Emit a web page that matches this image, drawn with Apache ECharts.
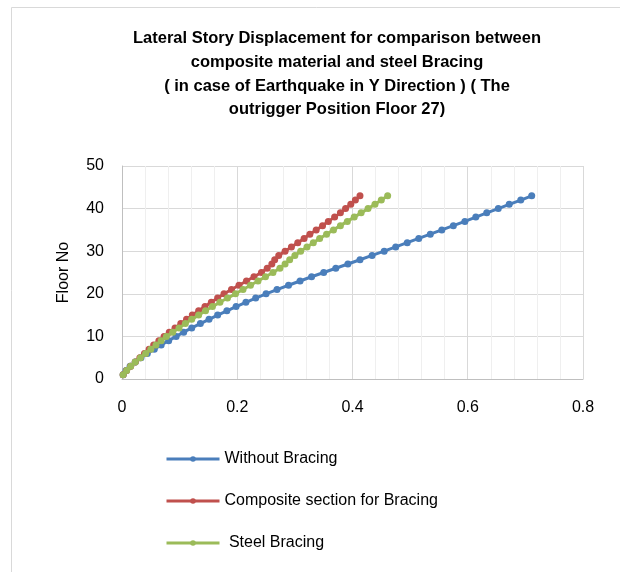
<!DOCTYPE html>
<html>
<head>
<meta charset="utf-8">
<script src="https://cdn.jsdelivr.net/npm/echarts@6/dist/echarts.min.js"></script>
<style>
  html, body { margin: 0; padding: 0; background: #fff; }
  #main { width: 620px; height: 572px; }
</style>
</head>
<body>
<div id="main"></div>
<script>
// floor numbers (y values)
var floors = [1, 2, 3, 4, 5, 6, 7, 8, 9, 10,
  11, 12, 13, 14, 15, 16, 17, 18, 19, 20,
  21, 22, 23, 24, 25, 26, 27, 28, 29, 30,
  31, 32, 33, 34, 35, 36, 37, 38, 39, 40,
  41, 42, 43];

// lateral displacement
var withoutBracing = [0.002, 0.007, 0.014, 0.023, 0.033, 0.044, 0.056, 0.068, 0.081, 0.094,
  0.107, 0.121, 0.136, 0.151, 0.166, 0.182, 0.198, 0.215, 0.232, 0.250,
  0.269, 0.289, 0.309, 0.329, 0.350, 0.371, 0.392, 0.413, 0.434, 0.455,
  0.475, 0.495, 0.515, 0.535, 0.555, 0.575, 0.595, 0.614, 0.633, 0.653,
  0.672, 0.692, 0.711];
var compositeBracing = [0.002, 0.008, 0.015, 0.023, 0.031, 0.039, 0.047, 0.055, 0.064, 0.073,
  0.082, 0.092, 0.102, 0.112, 0.122, 0.133, 0.144, 0.155, 0.166, 0.177,
  0.190, 0.203, 0.216, 0.229, 0.242, 0.252, 0.260, 0.265, 0.272, 0.283,
  0.294, 0.305, 0.316, 0.326, 0.337, 0.348, 0.358, 0.369, 0.379, 0.388,
  0.397, 0.405, 0.413];
var steelBracing = [0.002, 0.008, 0.015, 0.023, 0.032, 0.041, 0.050, 0.059, 0.068, 0.077,
  0.088, 0.099, 0.110, 0.121, 0.133, 0.145, 0.157, 0.170, 0.183, 0.197,
  0.210, 0.223, 0.236, 0.249, 0.262, 0.274, 0.283, 0.291, 0.300, 0.310,
  0.321, 0.332, 0.343, 0.355, 0.367, 0.379, 0.391, 0.403, 0.415, 0.427,
  0.439, 0.450, 0.461];

var seriesNames = ["Without Bracing", "Composite section for Bracing", " Steel Bracing"];
var seriesColors = ["#4a7ebb", "#c0504d", "#9bbb59"];

// 把x值和楼层拼成点
function pairUp(xs) {
  return xs.map(function (v, i) {
    return [v, floors[i]];
  });
}

var font = "Liberation Sans";
var myChart = echarts.init(document.getElementById("main"));

var option = {
  animation: false,
  backgroundColor: "#fff",
  title: {
    text: "Lateral Story Displacement for comparison between\ncomposite material and steel Bracing\n( in case of Earthquake in Y Direction ) ( The\noutrigger Position Floor 27)",
    left: 332,
    top: 22,
    textAlign: "center",
    textStyle: {
      fontFamily: font,
      fontSize: 16.5,
      fontWeight: "bold",
      color: "#000",
      lineHeight: 23.7,
    },
  },
  graphic: [
    {
      type: "rect",
      shape: { x: 11.5, y: 7.5, width: 700, height: 700 },
      style: { fill: "none", stroke: "#d9d9d9", lineWidth: 1 },
      silent: true,
    },
  ],
  grid: {
    left: 122,
    top: 166,
    right: 37,
    bottom: 193,
  },
  xAxis: {
    type: "value",
    min: 0,
    max: 0.8,
    interval: 0.2,
    axisLine: { show: true, lineStyle: { color: "#bfbfbf" } },
    axisTick: { show: false },
    axisLabel: {
      fontFamily: font,
      fontSize: 16,
      color: "#000",
      margin: 21,
      formatter: function (v) {
        return v === 0 ? "0" : String(+v.toFixed(1));
      },
    },
    splitLine: { show: true, lineStyle: { color: "#d9d9d9" } },
    minorTick: { show: false, splitNumber: 5 },
    minorSplitLine: { show: true, lineStyle: { color: "#efefef" } },
  },
  yAxis: {
    type: "value",
    min: 0,
    max: 50,
    interval: 10,
    name: "Floor No",
    nameLocation: "middle",
    nameGap: 50,
    nameTextStyle: { fontFamily: font, fontSize: 16, color: "#000" },
    axisLine: { show: true, lineStyle: { color: "#bfbfbf" } },
    axisTick: { show: false },
    axisLabel: { fontFamily: font, fontSize: 16, color: "#000", margin: 18 },
    splitLine: { show: true, lineStyle: { color: "#d9d9d9" } },
  },
  legend: {
    orient: "vertical",
    left: 160,
    top: 445,
    itemGap: 24,
    itemWidth: 53,
    itemHeight: 7,
    textStyle: { fontFamily: font, fontSize: 16, color: "#000", lineHeight: 18 },
    lineStyle: { width: 3 },
    data: seriesNames,
  },
  series: [withoutBracing, compositeBracing, steelBracing].map(function (xs, i) {
    return {
      name: seriesNames[i],
      type: "line",
      data: pairUp(xs),
      symbol: "circle",
      symbolSize: 7,
      showSymbol: true,
      lineStyle: { width: 3, color: seriesColors[i] },
      itemStyle: { color: seriesColors[i] },
      z: 3 + i,
    };
  }),
};

myChart.setOption(option);
</script>
</body>
</html>
